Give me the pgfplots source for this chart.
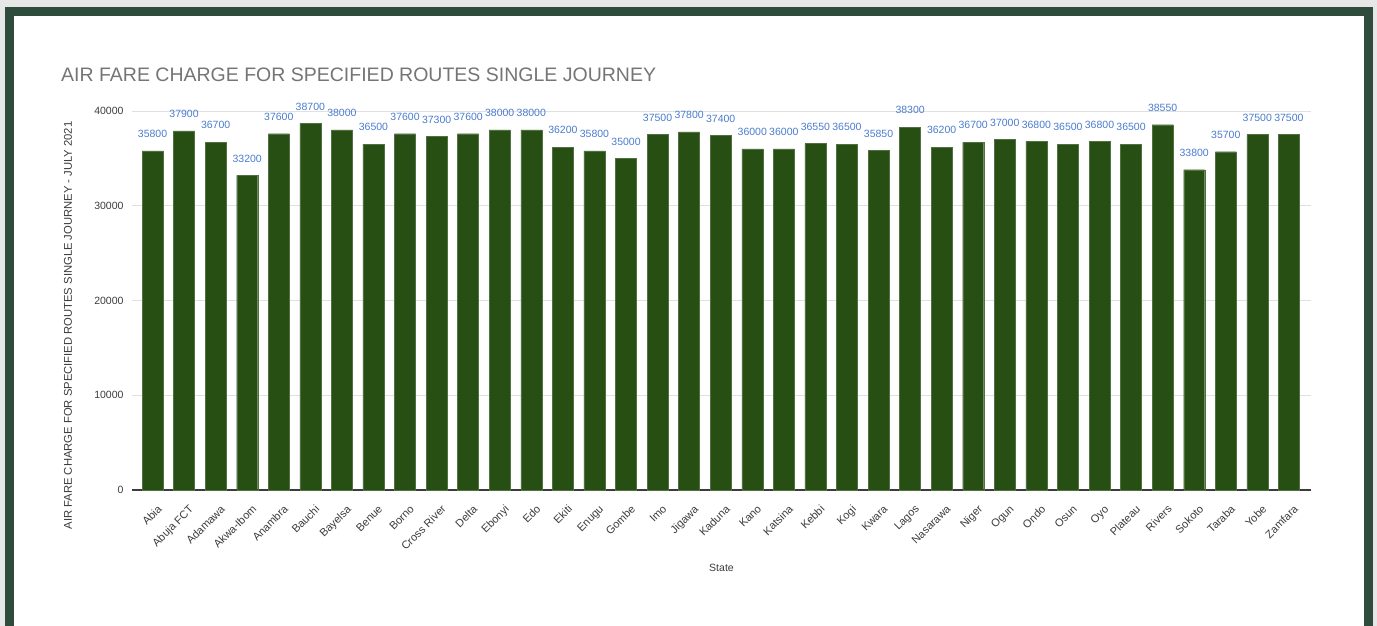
\documentclass[border=0pt]{standalone}
\usepackage{fontspec}
\setmainfont{Liberation Sans}
\usepackage{pgfplots}
\usepackage{pgfplotstable}
\pgfplotsset{compat=1.18}

\definecolor{bargreen}{HTML}{274E13}
\definecolor{framegreen}{HTML}{2E4B3C}
\definecolor{outergray}{HTML}{E6E7E6}
\definecolor{titlegray}{HTML}{757575}
\definecolor{labelblue}{HTML}{4A7CCF}
\definecolor{tickgray}{HTML}{3C3C3C}

% air fare per state, July 2021
\pgfplotstableread{
x state fare
0 Abia 35800
1 {Abuja FCT} 37900
2 Adamawa 36700
3 Akwa-Ibom 33200
4 Anambra 37600
5 Bauchi 38700
6 Bayelsa 38000
7 Benue 36500
8 Borno 37600
9 {Cross River} 37300
10 Delta 37600
11 Ebonyi 38000
12 Edo 38000
13 Ekiti 36200
14 Enugu 35800
15 Gombe 35000
16 Imo 37500
17 Jigawa 37800
18 Kaduna 37400
19 Kano 36000
20 Katsina 36000
21 Kebbi 36550
22 Kogi 36500
23 Kwara 35850
24 Lagos 38300
25 Nasarawa 36200
26 Niger 36700
27 Ogun 37000
28 Ondo 36800
29 Osun 36500
30 Oyo 36800
31 Plateau 36500
32 Rivers 38550
33 Sokoto 33800
34 Taraba 35700
35 Yobe 37500
36 Zamfara 37500
}\faredata

\begin{document}
\begin{tikzpicture}[x=1pt,y=1pt]
\useasboundingbox (0,0) rectangle (1377,626);
\fill[outergray] (0,0) rectangle (1377,626);
\fill[framegreen] (5,0) rectangle (1373,619);
\fill[white] (14,0) rectangle (1364,610);
\node[anchor=west, inner sep=0pt, text=titlegray, font=\fontsize{19.5}{22}\selectfont]
  at (61,551) {AIR FARE CHARGE FOR SPECIFIED ROUTES SINGLE JOURNEY};
\begin{axis}[
    at={(132pt,136pt)}, anchor=south west,
    scale only axis, width=1179pt, height=379pt,
    ybar, bar width=21pt,
    xmin=-0.65, xmax=36.7, ymin=0, ymax=40000,
    enlarge x limits=false, enlarge y limits=false,
    clip=false,
    xtick=data,
    xticklabels from table={\faredata}{state},
    ytick={0,10000,20000,30000,40000},
    scaled y ticks=false,
    /pgf/number format/1000 sep={},
    /pgf/number format/assume math mode=true,
    axis x line*=bottom, axis y line*=left,
    x axis line style={draw=tickgray, line width=1.2pt},
    y axis line style={draw=none},
    major tick length=0pt,
    ymajorgrids, grid style={draw=black!12, line width=0.8pt},
    xticklabel style={rotate=45, anchor=north east, inner sep=1pt,
      font=\fontsize{11}{12}\selectfont, text=tickgray, xshift=-6pt, yshift=-12pt},
    yticklabel style={font=\fontsize{10.5}{12}\selectfont, text=tickgray, xshift=-5pt},
    xlabel={State},
    xlabel style={at={(rel axis cs:0.5,0)}, anchor=center, yshift=-78pt,
      font=\fontsize{10.5}{12}\selectfont, text=tickgray},
    ylabel={AIR FARE CHARGE FOR SPECIFIED ROUTES SINGLE JOURNEY - JULY 2021},
    ylabel style={at={(rel axis cs:0,0.5)}, anchor=center, rotate=0,
      xshift=-25pt, yshift=64pt,
      font=\fontsize{11.25}{12}\selectfont, text=tickgray},
    nodes near coords,
    nodes near coords style={font=\fontsize{10.5}{12}\selectfont, text=labelblue,
      anchor=south, inner sep=0pt, yshift=13pt},
]
\addplot[fill=bargreen, draw=bargreen!80!white] table[x=x, y=fare] {\faredata};
\end{axis}
\end{tikzpicture}
\end{document}
